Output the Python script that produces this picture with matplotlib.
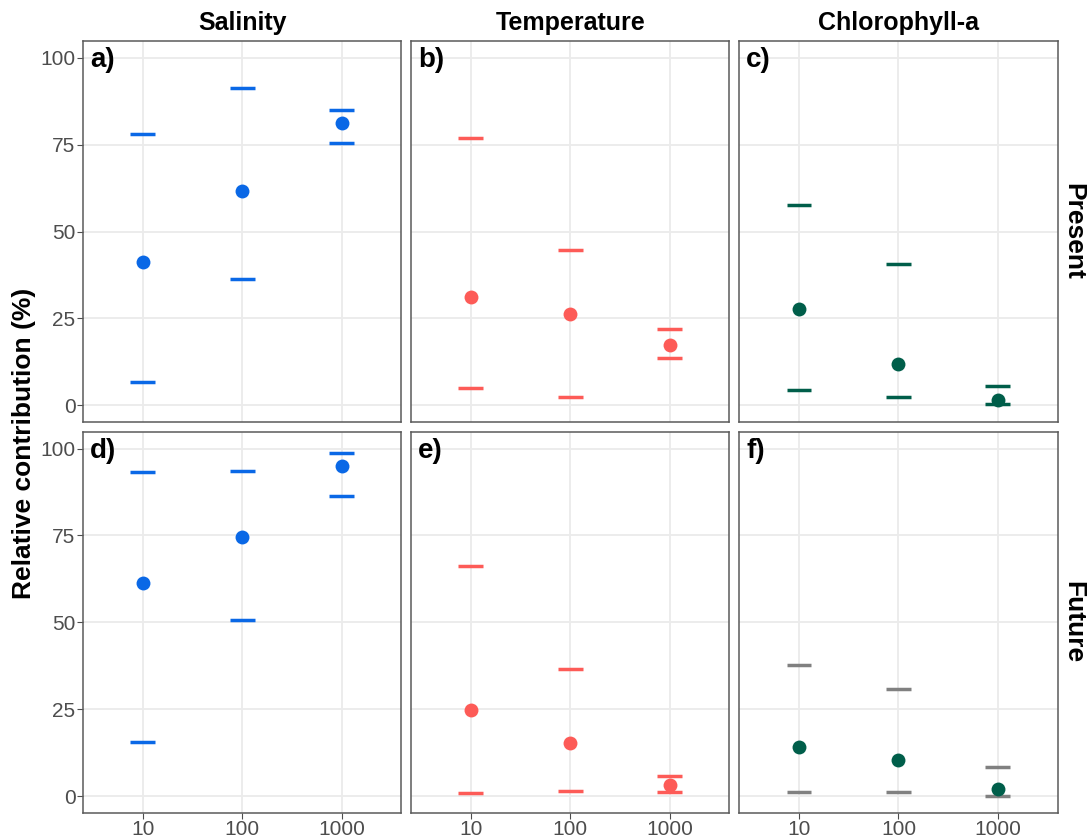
import matplotlib
matplotlib.use("Agg")
import matplotlib.pyplot as plt
import numpy as np

plt.rcParams['font.family'] = ['Liberation Sans', 'DejaVu Sans']

# data
scales = ['10', '100', '1000']
variables = ['Salinity', 'Temperature', 'Chlorophyll-a']
periods = ['Present', 'Future']
panel_tags = [['a)', 'b)', 'c)'], ['d)', 'e)', 'f)']]

# Present
sal_pres_mid = [41.3, 61.8, 81.1]
sal_pres_lo = [6.7, 36.4, 75.6]
sal_pres_hi = [78.0, 91.2, 84.9]
tmp_pres_mid = [31.2, 26.2, 17.4]
tmp_pres_lo = [5.1, 2.4, 13.7]
tmp_pres_hi = [76.9, 44.7, 22.1]
chl_pres_mid = [27.6, 11.9, 1.5]
chl_pres_lo = [4.3, 2.5, 0.3]
chl_pres_hi = [57.7, 40.7, 5.5]

# Future
sal_fut_mid = [61.4, 74.7, 95.1]
sal_fut_lo = [15.5, 50.8, 86.5]
sal_fut_hi = [93.3, 93.6, 98.6]
tmp_fut_mid = [24.7, 15.3, 3.1]
tmp_fut_lo = [1.0, 1.5, 1.2]
tmp_fut_hi = [66.1, 36.7, 5.7]
chl_fut_mid = [14.1, 10.4, 2.1]
chl_fut_lo = [1.2, 1.2, 0.1]
chl_fut_hi = [37.8, 30.7, 8.5]

mids = [[sal_pres_mid, tmp_pres_mid, chl_pres_mid], [sal_fut_mid, tmp_fut_mid, chl_fut_mid]]
lows = [[sal_pres_lo, tmp_pres_lo, chl_pres_lo], [sal_fut_lo, tmp_fut_lo, chl_fut_lo]]
highs = [[sal_pres_hi, tmp_pres_hi, chl_pres_hi], [sal_fut_hi, tmp_fut_hi, chl_fut_hi]]

point_cols = ['#0A68E6', '#FD5B57', '#005E4A']
bar_cols = [['#0A68E6', '#FD5B57', '#005E4A'], ['#0A68E6', '#FD5B57', '#808080']]

fig, axes = plt.subplots(2, 3, figsize=(10.88, 8.38), dpi=100)
plt.subplots_adjust(left=0.0763, right=0.972, top=0.951, bottom=0.030, wspace=0.0314, hspace=0.026)

x = np.arange(len(scales))
half_w = 0.125
for i in range(2):
    for j in range(3):
        ax = axes[i, j]
        ax.set_axisbelow(True)
        ax.grid(True, color='#EBEBEB', linewidth=1.3)
        ax.hlines(lows[i][j], x - half_w, x + half_w, color=bar_cols[i][j], linewidth=2.5, zorder=3)
        ax.hlines(highs[i][j], x - half_w, x + half_w, color=bar_cols[i][j], linewidth=2.5, zorder=3)
        ax.scatter(x, mids[i][j], s=100, color=point_cols[j], zorder=4, linewidths=0)
        ax.set_xlim(-0.6, 2.6)
        ax.set_ylim(-4.8, 104.8)
        ax.set_xticks(x)
        ax.set_xticklabels(scales)
        ax.set_yticks([0, 25, 50, 75, 100])
        for s in ax.spines.values():
            s.set_color('#5A5A5A')
            s.set_linewidth(1.1)
        ax.tick_params(labelsize=15, labelcolor='#4D4D4D', color='#4D4D4D', length=4, pad=1.5)
        if j > 0:
            ax.tick_params(axis='y', left=False, labelleft=False)
        if i == 0:
            ax.tick_params(axis='x', bottom=False, labelbottom=False)
            ax.set_title(variables[j], fontsize=18, fontweight='bold', pad=8)
        if j == 2:
            ax.text(1.048, 0.5, periods[i], transform=ax.transAxes, rotation=-90,
                    fontsize=19, fontweight='bold', ha='center', va='center')
        ax.text(0.022, 0.985, panel_tags[i][j], transform=ax.transAxes,
                fontsize=20, fontweight='bold', ha='left', va='top')

fig.text(0.022, 0.471, 'Relative contribution (%)', rotation=90, fontsize=19,
         fontweight='bold', ha='center', va='center')

plt.savefig('out.png', dpi=100)
plt.close()
